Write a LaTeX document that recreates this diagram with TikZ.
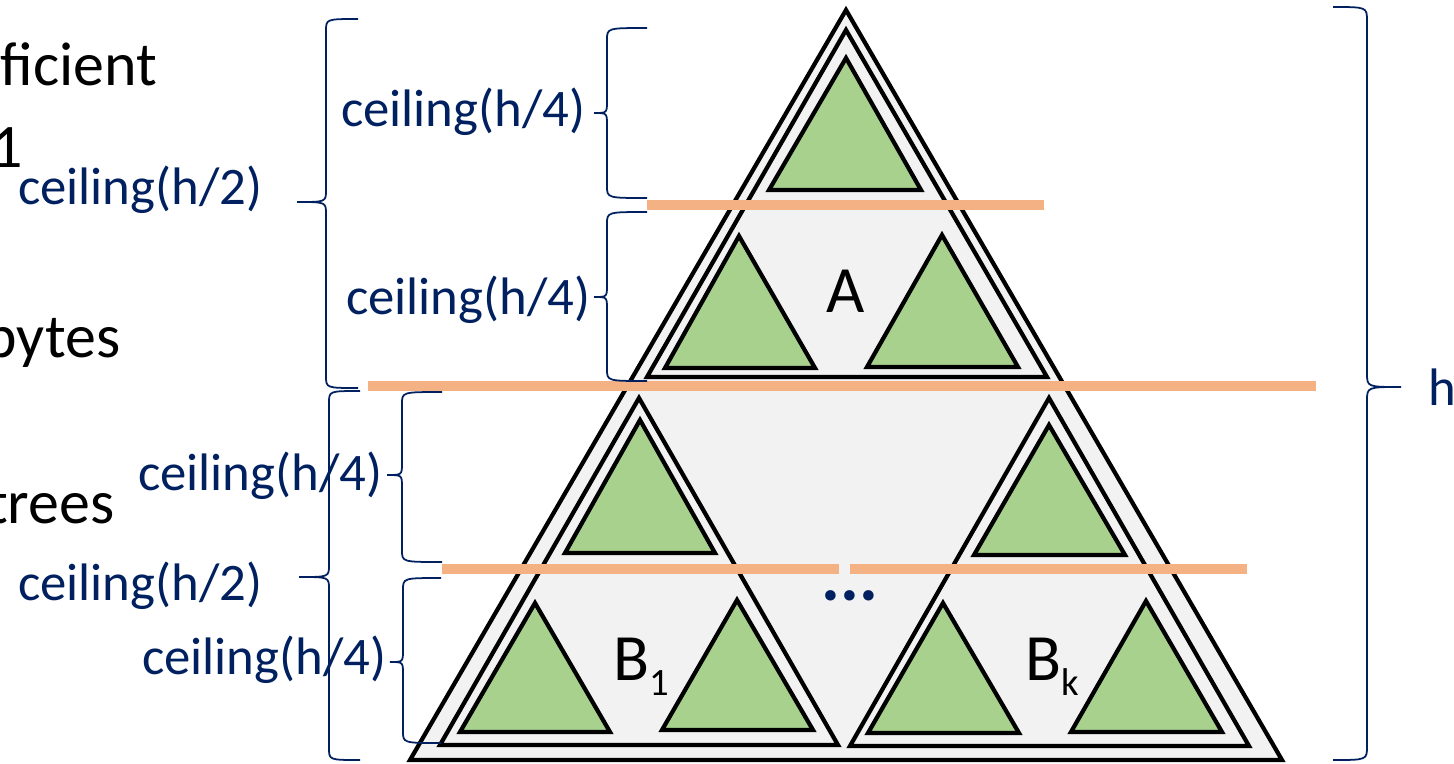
\documentclass[tikz,border=0pt]{standalone}
\usepackage{fontspec}
\setmainfont{Carlito}
\usetikzlibrary{positioning}
\definecolor{tNavy}{HTML}{002060}
\definecolor{tGray}{HTML}{F2F2F2}
\definecolor{tGreen}{HTML}{A9D18E}
\definecolor{tOrange}{HTML}{F4B183}

\begin{document}
\begin{tikzpicture}[x=0.01cm,y=-0.01cm,
    shell/.style={draw=black,line width=1.2pt,fill=tGray},
    leaf/.style={draw=black,line width=1.2pt,fill=tGreen},
    levelcut/.style={tOrange,line width=3.1pt},
    curl/.style={tNavy,line width=0.5pt},
    hlabel/.style={tNavy,inner sep=0pt,anchor=east,font=\fontsize{15}{18}\selectfont},
    slidetext/.style={inner sep=0pt,anchor=base east,font=\fontsize{17.6}{21}\selectfont},
    treelabel/.style={inner sep=0pt,font=\fontsize{18.8}{22}\selectfont}]
  \useasboundingbox (0,0) rectangle (1454,763);

  % cut-off slide text on the left
  \node[slidetext] (eff) at (158,85) {ficient};
  \node[slidetext] (one) at (24,167) {1};
  \node[slidetext] (byt) at (121,357) {bytes};
  \node[slidetext] (tre) at (115,523) {trees};

  % whole tree, then the subtrees A, B_1, B_k
  \draw[shell] (846,10) -- (410,760) -- (1282,760) -- cycle;
  \foreach \ax/\ay/\lx/\rx/\by in {846/30/647/1047/377,
      639/398/440/838/745, 1049/398/850/1249/746}
    \draw[shell] (\ax,\ay) -- (\lx,\by) -- (\rx,\by) -- cycle;
  \foreach \ax/\ay/\lx/\rx/\by in {846/58/769/921/190,
      739/236/665/815/368, 942/235/867/1018/367,
      640/420/565/715/553, 535/603/460/610/732, 737/600/662/813/730,
      1049/425/974/1125/555, 943/603/868/1019/733, 1146/601/1071/1222/732}
    \draw[leaf] (\ax,\ay) -- (\lx,\by) -- (\rx,\by) -- cycle;

  % level cuts
  \foreach \xa/\xb/\y in {647/1044/205, 368/1316/386, 442/839/569, 850/1247/569}
    \draw[levelcut] (\xa,\y) -- (\xb,\y);

  \node[treelabel] (lblA) at (846,291) {A};
  \node[treelabel,anchor=base west] (lblB1) at (613,680)
    {B\raisebox{-4.5pt}{\fontsize{11}{13}\selectfont 1}};
  \node[treelabel,anchor=base west] (lblBk) at (1025,680)
    {B\raisebox{-4.5pt}{\fontsize{11}{13}\selectfont k}};
  \node[tNavy,inner sep=0pt,anchor=base,font=\fontsize{20}{24}\selectfont\bfseries]
    (dots) at (850,600) {...};

  % braces with their heights
  \foreach \xe/\yt/\yb/\xs/\xt/\ym/\lx/\ly/\t [count=\i] in {%
      358/19/388/326/297/202/263/190/2,
      647/28/198/607/594/113/586/112/4,
      647/212/381/607/594/297/591/300/4,
      360/391/760/329/299/577/263/586/2,
      442/392/562/402/387/475/383/476/4,
      441/578/743/403/390/662/387/660/4}{%
    \draw[curl] (\xe,\yt) .. controls (\xs,\yt) .. (\xs,\yt+12)
      -- (\xs,\ym-12) .. controls (\xs,\ym) .. (\xt,\ym)
      .. controls (\xs,\ym) .. (\xs,\ym+12)
      -- (\xs,\yb-12) .. controls (\xs,\yb) .. (\xe,\yb);
    \node[hlabel] (size\i) at (\lx,\ly) {ceiling(h/\t)};
  }
  \coordinate (hTip) at (1401,387);
  \draw[curl] (1333,7) .. controls (1367,7) .. (1367,21) -- (1367,373)
    .. controls (1367,387) .. (hTip) .. controls (1367,387) .. (1367,401)
    -- (1367,746) .. controls (1367,760) .. (1333,760);
  \node[hlabel,right=0.27cm of hTip] (hgt) {h};
\end{tikzpicture}
\end{document}
